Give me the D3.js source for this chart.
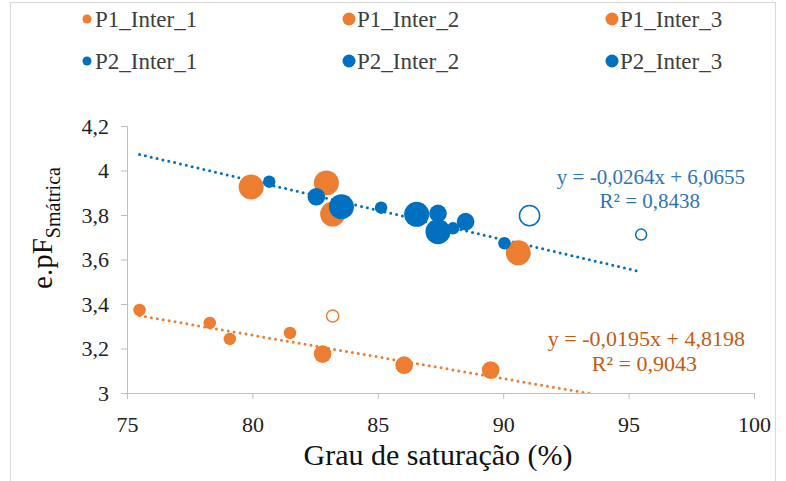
<!DOCTYPE html>
<html>
<head>
<meta charset="utf-8">
<script src="https://cdn.jsdelivr.net/npm/d3@7/dist/d3.min.js"></script>
<style>
  html, body { margin: 0; padding: 0; background: #fff; }
  svg { display: block; }
  svg text { font-family: "Liberation Serif", "Times New Roman", serif !important; }
</style>
</head>
<body>
<svg id="chart" width="786" height="481"></svg>
<script>
// Degree of saturation (%) vs e.pF(S matric) for two profiles, three intervals each.
const p1Inter1X = [75.5, 78.3, 79.1, 81.5];
const p1Inter1Y = [3.373, 3.315, 3.243, 3.27];
const p1Inter2X = [82.8, 86.05, 89.5];
const p1Inter2Y = [3.175, 3.125, 3.103];
const p1Inter3X = [79.95, 82.95, 83.2, 90.6];
const p1Inter3Y = [3.926, 3.944, 3.804, 3.63];

const p2Inter1X = [80.67, 85.13, 88.0, 90.05];
const p2Inter1Y = [3.95, 3.833, 3.74, 3.673];
const p2Inter2X = [82.55, 87.4, 88.5];
const p2Inter2Y = [3.882, 3.807, 3.77];
const p2Inter3X = [83.55, 86.55, 87.4];
const p2Inter3Y = [3.837, 3.803, 3.725];

// Bubble size per interval
const intervalSizes = [1, 2, 4];

// Points drawn as open circles (excluded points)
const openX = [83.2, 91.05, 95.5];
const openY = [3.346, 3.797, 3.712];
const openSize = [1.2, 3, 1];
const openProfile = ["P1", "P2", "P2"];

// Linear trendlines
const trendSlope = { P1: -0.0195, P2: -0.0264 };
const trendIntercept = { P1: 4.8198, P2: 6.0655 };
const trendRange = { P1: [75.5, 95.5], P2: [75.5, 95.5] };
const eqLabels = { P1: ["y = -0,0195x + 4,8198", "R² = 0,9043"], P2: ["y = -0,0264x + 6,0655", "R² = 0,8438"] };

const xTicks = [75, 80, 85, 90, 95, 100];
const yTicks = [3, 3.2, 3.4, 3.6, 3.8, 4, 4.2];
const legendNames = [["P1_Inter_1", "P1_Inter_2", "P1_Inter_3"], ["P2_Inter_1", "P2_Inter_2", "P2_Inter_3"]];

const colors = { P1: "#ED7D31", P2: "#0070C0" };
const textColors = { P1: "#C55A11", P2: "#2E75B6" };

const svg = d3.select("#chart");
const W = 786, H = 481;
const plot = { left: 127, right: 754, top: 126, bottom: 393 };

// outer chart frame
svg.append("rect").attr("x", 10.5).attr("y", 2.5).attr("width", W - 21).attr("height", H)
  .attr("fill", "#fff").attr("stroke", "#D9D9D9").attr("stroke-width", 1);

const x = d3.scaleLinear().domain([75, 100]).range([plot.left, plot.right]);
const y = d3.scaleLinear().domain([3, 4.2]).range([plot.bottom, plot.top]);
const r = d3.scaleSqrt().domain([0, 4]).range([0, 12.5]);

const fmt = v => d3.format(".1f")(v).replace(".0", "").replace(".", ",");

// axes
const xAxis = svg.append("g").attr("transform", `translate(0,${plot.bottom})`)
  .call(d3.axisBottom(x).tickValues(xTicks).tickSize(6).tickPadding(12).tickFormat(d => d));
const yAxis = svg.append("g").attr("transform", `translate(${plot.left},0)`)
  .call(d3.axisLeft(y).tickValues(yTicks).tickSize(6).tickPadding(12).tickFormat(fmt));
[xAxis, yAxis].forEach(g => {
  g.attr("font-family", null);
  g.select(".domain").attr("stroke", "#BFBFBF");
  g.selectAll(".tick line").attr("stroke", "#BFBFBF");
  g.selectAll(".tick text").attr("fill", "#222").attr("font-size", 22);
});
xAxis.selectAll(".tick text").attr("dy", "0.95em");

// axis titles
svg.append("text").attr("x", 438).attr("y", 465).attr("text-anchor", "middle")
  .attr("font-size", 30).attr("fill", "#111").text("Grau de saturação (%)");
const yt = svg.append("text").attr("transform", "translate(52,228) rotate(-90)")
  .attr("text-anchor", "middle").attr("fill", "#111");
yt.append("tspan").attr("font-size", 29).text("e.pF");
yt.append("tspan").attr("font-size", 20).attr("dy", 8).text("Smátrica");

// clip for trendlines
svg.append("clipPath").attr("id", "plotClip").append("rect")
  .attr("x", plot.left).attr("y", plot.top - 40).attr("width", plot.right - plot.left).attr("height", plot.bottom - plot.top + 40);

// trendlines
["P2", "P1"].forEach(p => {
  const pts = trendRange[p].map(v => [v, trendSlope[p] * v + trendIntercept[p]]);
  svg.append("path").attr("clip-path", "url(#plotClip)")
    .attr("d", d3.line().x(d => x(d[0])).y(d => y(d[1]))(pts))
    .attr("fill", "none").attr("stroke", colors[p]).attr("stroke-width", 3)
    .attr("stroke-linecap", "round").attr("stroke-dasharray", "0 6");
});

// bubbles, largest intervals first so the small ones stay visible
const series = [
  { p: "P1", xs: p1Inter3X, ys: p1Inter3Y, s: intervalSizes[2] },
  { p: "P1", xs: p1Inter2X, ys: p1Inter2Y, s: intervalSizes[1] },
  { p: "P1", xs: p1Inter1X, ys: p1Inter1Y, s: intervalSizes[0] },
  { p: "P2", xs: p2Inter3X, ys: p2Inter3Y, s: intervalSizes[2] },
  { p: "P2", xs: p2Inter2X, ys: p2Inter2Y, s: intervalSizes[1] },
  { p: "P2", xs: p2Inter1X, ys: p2Inter1Y, s: intervalSizes[0] }
];
series.forEach(sr => {
  svg.append("g").selectAll("circle").data(sr.xs.map((v, i) => [v, sr.ys[i]])).join("circle")
    .attr("cx", d => x(d[0])).attr("cy", d => y(d[1])).attr("r", r(sr.s))
    .attr("fill", colors[sr.p]);
});

// open circles
svg.append("g").selectAll("circle").data(openX.map((v, i) => i)).join("circle")
  .attr("cx", i => x(openX[i])).attr("cy", i => y(openY[i])).attr("r", i => r(openSize[i]) - 0.75)
  .attr("fill", "#fff").attr("stroke", i => colors[openProfile[i]]).attr("stroke-width", 1.5);

// equation labels
const eqStyle = {
  P2: { x: 745, y: 184, size: 21, rx: 700, gap: 24 },
  P1: { x: 745, y: 346, size: 22, rx: 697, gap: 25 }
};
["P2", "P1"].forEach(p => {
  const s = eqStyle[p];
  svg.append("text").attr("x", s.x).attr("y", s.y).attr("text-anchor", "end")
    .attr("font-size", s.size).attr("fill", textColors[p]).text(eqLabels[p][0]);
  svg.append("text").attr("x", s.rx).attr("y", s.y + s.gap).attr("text-anchor", "end")
    .attr("font-size", s.size).attr("fill", textColors[p]).text(eqLabels[p][1]);
});

// legend
const legCols = [87, 349, 612];
const legRows = [19, 61];
const legR = [4.5, 6.5, 6.5];
["P1", "P2"].forEach((p, ri) => {
  legendNames[ri].forEach((name, ci) => {
    const g = svg.append("g").attr("transform", `translate(${legCols[ci]},${legRows[ri]})`);
    g.append("circle").attr("cx", 0).attr("cy", 0).attr("r", legR[ci]).attr("fill", colors[p]);
    g.append("text").attr("x", 8).attr("y", 8).attr("font-size", 23).attr("fill", "#404040").text(name);
  });
});
</script>
</body>
</html>
